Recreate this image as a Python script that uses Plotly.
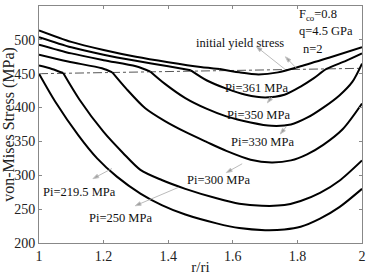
import plotly.graph_objects as go

# ---------------- data ----------------
yield_x = [1.0, 2.0]
yield_y = [450, 458]

# upper (hardening) branches, x = r/ri, y = stress MPa
up361_x = [1.0, 1.1, 1.2, 1.3, 1.4, 1.5, 1.56]
up361_y = [514, 497, 485, 475, 467, 460, 457]
up350_x = [1.0, 1.1, 1.2, 1.3, 1.4, 1.47]
up350_y = [504, 489, 478, 469, 461, 455]
up330_x = [1.0, 1.1, 1.2, 1.3, 1.345]
up330_y = [493, 480, 470, 461, 453]
up300_x = [1.0, 1.09, 1.195, 1.227]
up300_y = [478, 468, 458, 452]
up250_x = [1.0, 1.04, 1.075]
up250_y = [462, 457, 451]

# lower branches
lo361_x = [1.56, 1.62, 1.68, 1.74, 1.81, 1.9, 2.0]
lo361_y = [457, 452, 449, 452, 461, 474, 489]
lo350_x = [1.47, 1.52, 1.58, 1.64, 1.7, 1.76, 1.81, 1.85, 1.89, 1.95, 2.0]
lo350_y = [455, 440, 428, 419, 415, 419, 431, 443, 457, 469, 480]
lo330_x = [1.345, 1.39, 1.453, 1.52, 1.58, 1.655, 1.72, 1.78, 1.83, 1.88, 1.93, 1.97, 2.0]
lo330_y = [453, 435, 414, 398, 387, 378, 373, 375, 385, 400, 418, 438, 465]
lo300_x = [1.227, 1.27, 1.329, 1.39, 1.453, 1.52, 1.58, 1.655, 1.72, 1.78, 1.83, 1.88, 1.94, 2.0]
lo300_y = [452, 428, 399, 380, 364, 349, 336, 323, 319, 322, 331, 345, 368, 406]
lo250_x = [1.075, 1.125, 1.2, 1.26, 1.314, 1.38, 1.453, 1.55, 1.62, 1.69, 1.76, 1.81, 1.87, 1.93, 2.0]
lo250_y = [451, 412, 364, 333, 308, 293, 280, 266, 258, 255, 256, 262, 274, 292, 322]
lo219_x = [1.0, 1.05, 1.122, 1.18, 1.241, 1.314, 1.38, 1.453, 1.55, 1.62, 1.7, 1.76, 1.81, 1.87, 1.93, 2.0]
lo219_y = [450, 409, 359, 325, 298, 273, 256, 242, 229, 222, 219, 220, 224, 236, 253, 280]

x_ticks = [1, 1.2, 1.4, 1.6, 1.8, 2]
x_tick_labels = ["1", "1.2", "1.4", "1.6", "1.8", "2"]
y_ticks = [200, 250, 300, 350, 400, 450, 500, 550]
y_tick_labels = [str(v) for v in y_ticks]

labels = ["Pi=361 MPa", "Pi=350 MPa", "Pi=330 MPa", "Pi=300 MPa", "Pi=250 MPa", "Pi=219.5 MPa"]
label_x = [1.673, 1.679, 1.691, 1.555, 1.251, 1.124]
label_y = [429, 389, 349, 293, 237, 276]
# arrows: tail (on curve) -> head (near label)
arrow_head_x = [1.763, 1.707, 1.747, 1.58, 1.298, 1.167, 1.673]
arrow_head_y = [475, 407, 361, 304, 255, 295, 490]
arrow_tail_x = [1.797, 1.722, 1.766, 1.629, 1.431, 1.226, 1.763]
arrow_tail_y = [458, 416, 372, 317, 282, 310, 456]

# ---------------- figure ----------------
serif = "Times New Roman, Liberation Serif, Tinos, DejaVu Serif, serif"
fig = go.Figure()
fig.add_trace(go.Scatter(x=yield_x, y=yield_y, mode="lines",
                         line=dict(color="#555", width=1, dash="dashdot"),
                         showlegend=False, hoverinfo="skip"))

curves = [(up361_x, up361_y), (up350_x, up350_y), (up330_x, up330_y),
          (up300_x, up300_y), (up250_x, up250_y),
          (lo361_x, lo361_y), (lo350_x, lo350_y), (lo330_x, lo330_y),
          (lo300_x, lo300_y), (lo250_x, lo250_y), (lo219_x, lo219_y)]
for cx, cy in curves:
    fig.add_trace(go.Scatter(x=cx, y=cy, mode="lines",
                             line=dict(color="black", width=2, shape="spline", smoothing=0.8),
                             showlegend=False, hoverinfo="skip"))

# thin grey pointer arrows
for hx, hy, tx, ty in zip(arrow_head_x, arrow_head_y, arrow_tail_x, arrow_tail_y):
    fig.add_trace(go.Scatter(x=[tx, hx], y=[ty, hy], mode="lines+markers",
                             line=dict(color="#aaa", width=0.8),
                             marker=dict(symbol="arrow", size=[0, 6], angleref="previous",
                                         color="#777"),
                             showlegend=False, hoverinfo="skip"))

fs = 12.5
ann = []
for t, lx, ly in zip(labels, label_x, label_y):
    ann.append(dict(x=lx, y=ly, text=t, showarrow=False,
                    font=dict(family=serif, size=fs, color="#111")))
ann.append(dict(x=1.623, y=496, text="initial yield stress", showarrow=False,
                font=dict(family=serif, size=fs, color="#111")))
ann.append(dict(x=1.80, y=537, text="F<sub>co</sub>=0.8", showarrow=False, xanchor="left",
                font=dict(family=serif, size=fs, color="#111")))
ann.append(dict(x=1.80, y=513, text="q=4.5 GPa", showarrow=False, xanchor="left",
                font=dict(family=serif, size=fs, color="#111")))
ann.append(dict(x=1.81, y=486, text="n=2", showarrow=False, xanchor="left",
                font=dict(family=serif, size=fs, color="#111")))

fig.update_layout(
    width=370, height=275,
    margin=dict(l=39, r=8, t=6, b=32),
    paper_bgcolor="white", plot_bgcolor="white",
    font=dict(family=serif),
    annotations=ann,
    xaxis=dict(range=[1, 2], tickvals=x_ticks, ticktext=x_tick_labels, automargin=False,
               showgrid=False, zeroline=False, showline=True, mirror="ticks",
               linecolor="#888", linewidth=1, ticks="inside", ticklen=3, tickcolor="#888",
               tickfont=dict(family=serif, size=14, color="#222"),
               title=dict(text="r/ri", font=dict(family=serif, size=15, color="#222"), standoff=0)),
    yaxis=dict(range=[200, 550], tickvals=y_ticks, ticktext=y_tick_labels, automargin=False,
               showgrid=False, zeroline=False, showline=True, mirror="ticks",
               linecolor="#888", linewidth=1, ticks="inside", ticklen=3, tickcolor="#888",
               tickfont=dict(family=serif, size=14, color="#222"),
               title=dict(text="von-Mises Stress (MPa)", font=dict(family=serif, size=16, color="#222"),
                          standoff=0)),
)
fig.write_html("out.html")
